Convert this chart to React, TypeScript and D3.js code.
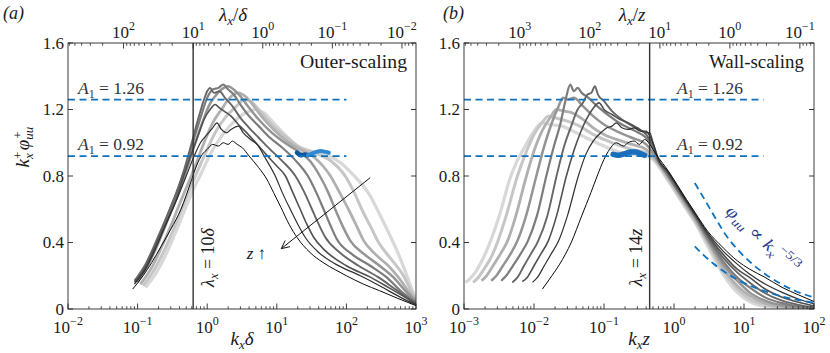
import React from "react";
import * as d3 from "d3";

const FONT = '"Liberation Serif", "DejaVu Serif", "Times New Roman", serif';
const AXIS = "#262626";
const BLUE = "#0f72bf";

const yTicks = [0, 0.4, 0.8, 1.2, 1.6];
const yTickLabels = ["0", "0.4", "0.8", "1.2", "1.6"];
const outerBottomExps = [-2, -1, 0, 1, 2, 3];
const outerTopExps = [2, 1, 0, -1, -2];
const wallBottomExps = [-3, -2, -1, 0, 1, 2];
const wallTopExps = [3, 2, 1, 0, -1];
const a1Levels = [1.26, 0.92];
const a1Labels = ["1.26", "0.92"];

// light (small z) -> black (large z)
const grays = ["#d8d8d8", "#c6c6c6", "#b0b0b0", "#949494", "#7c7c7c", "#666666", "#505050", "#303030", "#0a0a0a"];
const widths = [3.2, 3.0, 2.8, 2.5, 2.2, 1.9, 1.6, 1.2, 1.0];

// outer scaling: [k_x delta, k_x phi_uu]
const outer0 = [[0.13,0.13],[0.18,0.21],[0.25,0.32],[0.35,0.46],[0.48,0.6],[0.65,0.73],[0.85,0.83],[1.1,0.93],[1.5,1.02],[2,1.09],[3,1.16],[4,1.19],[5,1.2],[6.5,1.18],[9,1.12],[13,1.05],[20,0.98],[30,0.95],[50,0.93],[82,0.88],[130,0.8],[220,0.68],[300,0.57],[425,0.44],[560,0.33],[740,0.2],[870,0.12],[1000,0.06]];
const outer1 = [[0.12,0.14],[0.17,0.23],[0.24,0.35],[0.33,0.48],[0.45,0.62],[0.6,0.75],[0.8,0.87],[1.0,0.96],[1.3,1.06],[1.8,1.15],[2.5,1.21],[3.5,1.26],[4.5,1.24],[6,1.18],[9,1.1],[14,1.03],[22,0.97],[35,0.94],[60,0.89],[96,0.8],[130,0.7],[166,0.6],[220,0.5],[290,0.4],[420,0.31],[660,0.2],[850,0.11],[1000,0.055]];
const outer2 = [[0.11,0.15],[0.16,0.25],[0.22,0.37],[0.3,0.5],[0.4,0.63],[0.55,0.77],[0.7,0.88],[0.9,1.0],[1.2,1.12],[1.6,1.2],[2.1,1.27],[2.8,1.3],[3.5,1.28],[4.5,1.23],[6,1.16],[9,1.08],[14,1.01],[22,0.96],[35,0.91],[59,0.8],[80,0.7],[107,0.6],[140,0.5],[178,0.41],[260,0.33],[400,0.26],[560,0.19],[800,0.1],[1000,0.05]];
const outer3 = [[0.1,0.16],[0.14,0.26],[0.2,0.4],[0.28,0.55],[0.38,0.69],[0.5,0.83],[0.65,0.98],[0.85,1.12],[1.05,1.22],[1.3,1.28],[1.6,1.32],[2.0,1.34],[2.4,1.32],[3,1.28],[4,1.21],[5.5,1.14],[8,1.07],[12,1.01],[20,0.95],[30,0.89],[41.5,0.8],[55,0.7],[69,0.6],[88,0.5],[114,0.41],[180,0.33],[300,0.26],[475,0.19],[700,0.11],[1000,0.045]];
const outer4 = [[0.095,0.17],[0.14,0.28],[0.2,0.43],[0.28,0.58],[0.38,0.72],[0.48,0.84],[0.62,1.0],[0.8,1.15],[1.0,1.27],[1.2,1.32],[1.45,1.33],[1.7,1.35],[2.0,1.32],[2.4,1.29],[3,1.23],[4,1.16],[5.5,1.1],[8,1.03],[12,0.97],[18,0.9],[28,0.8],[37,0.7],[47,0.6],[58,0.51],[73,0.42],[120,0.33],[220,0.26],[380,0.19],[600,0.11],[1000,0.04]];
const outer5 = [[0.09,0.17],[0.13,0.27],[0.19,0.42],[0.27,0.57],[0.36,0.7],[0.46,0.83],[0.6,1.0],[0.75,1.15],[0.9,1.26],[1.0,1.31],[1.1,1.33],[1.25,1.3],[1.5,1.31],[1.8,1.27],[2.3,1.22],[3,1.15],[4,1.09],[5.5,1.03],[8,0.96],[12,0.89],[18.5,0.8],[25,0.7],[32,0.6],[40,0.51],[50,0.43],[80,0.34],[150,0.26],[290,0.19],[500,0.12],[800,0.06],[1000,0.035]];
const outer6 = [[0.09,0.16],[0.13,0.25],[0.19,0.4],[0.27,0.54],[0.36,0.66],[0.46,0.8],[0.6,0.94],[0.75,1.05],[0.9,1.14],[1.1,1.2],[1.3,1.23],[1.5,1.21],[1.75,1.19],[2.2,1.16],[2.8,1.11],[3.5,1.07],[5,1.0],[7,0.93],[10,0.86],[13.3,0.8],[17,0.7],[21.7,0.6],[27,0.51],[34,0.43],[50,0.35],[100,0.26],[224,0.19],[400,0.13],[700,0.07],[1000,0.03]];
const outer7 = [[0.09,0.15],[0.13,0.24],[0.18,0.36],[0.25,0.5],[0.35,0.64],[0.5,0.8],[0.65,0.92],[0.8,1.0],[1.0,1.05],[1.2,1.09],[1.38,1.12],[1.6,1.08],[1.9,1.06],[2.2,1.08],[2.8,1.1],[3.3,1.06],[4.2,1.02],[5.2,0.99],[7,0.9],[9.5,0.8],[12,0.7],[15.6,0.6],[20,0.51],[25.7,0.43],[40,0.34],[70,0.27],[159,0.2],[300,0.14],[600,0.07],[1000,0.025]];
const outer8 = [[0.085,0.12],[0.12,0.2],[0.16,0.28],[0.22,0.38],[0.3,0.48],[0.42,0.6],[0.6,0.78],[0.7,0.86],[0.85,0.93],[1.0,0.96],[1.2,0.99],[1.45,0.98],[1.7,1.0],[2.0,0.99],[2.3,1.01],[2.7,0.99],[3.2,0.97],[4.0,0.92],[5.5,0.85],[7.2,0.78],[9,0.7],[11.5,0.61],[15,0.51],[19.6,0.43],[30,0.34],[46,0.28],[70,0.235],[100,0.2],[175,0.15],[300,0.11],[540,0.065],[1000,0.02]];

// wall scaling: [k_x z, k_x phi_uu]
const wall0 = [[0.00105,0.16],[0.0012,0.18],[0.0015,0.23],[0.0019,0.31],[0.0024,0.41],[0.0033,0.58],[0.0045,0.78],[0.0056,0.88],[0.0075,0.98],[0.01,1.07],[0.013,1.12],[0.017,1.11],[0.025,1.1],[0.04,1.06],[0.07,1.01],[0.1,0.98],[0.15,0.95],[0.25,0.93],[0.4,0.92],[0.5,0.9],[0.6,0.86],[0.8,0.78],[1.1,0.69],[1.5,0.6],[2,0.52],[3,0.38],[5,0.21],[8,0.1],[12,0.045],[20,0.015],[35,0.006],[60,0.003],[100,0.001]];
const wall1 = [[0.00135,0.16],[0.0016,0.19],[0.002,0.25],[0.0025,0.32],[0.003,0.4],[0.004,0.56],[0.0058,0.8],[0.0075,0.93],[0.01,1.05],[0.013,1.12],[0.016,1.16],[0.02,1.15],[0.03,1.13],[0.045,1.1],[0.07,1.05],[0.1,1.02],[0.15,0.99],[0.25,0.96],[0.4,0.94],[0.5,0.91],[0.6,0.87],[0.8,0.79],[1.1,0.7],[1.5,0.61],[2,0.53],[3,0.4],[5,0.23],[8,0.12],[12,0.06],[20,0.025],[35,0.01],[60,0.005],[100,0.002]];
const wall2 = [[0.00178,0.17],[0.0021,0.2],[0.0026,0.26],[0.0033,0.33],[0.0042,0.41],[0.0055,0.56],[0.0078,0.8],[0.01,0.95],[0.013,1.07],[0.017,1.15],[0.021,1.2],[0.027,1.19],[0.035,1.18],[0.05,1.14],[0.07,1.09],[0.1,1.05],[0.15,1.02],[0.25,0.99],[0.4,0.96],[0.5,0.92],[0.6,0.88],[0.8,0.8],[1.1,0.71],[1.5,0.62],[2,0.54],[3,0.41],[5,0.25],[8,0.14],[12,0.08],[20,0.035],[35,0.015],[60,0.007],[100,0.003]];
const wall3 = [[0.00245,0.17],[0.0029,0.2],[0.0036,0.26],[0.0046,0.33],[0.0058,0.41],[0.0077,0.56],[0.0108,0.8],[0.014,0.98],[0.018,1.12],[0.022,1.21],[0.026,1.27],[0.03,1.26],[0.037,1.27],[0.05,1.22],[0.07,1.16],[0.1,1.11],[0.15,1.07],[0.25,1.03],[0.4,0.99],[0.5,0.94],[0.6,0.88],[0.8,0.81],[1.1,0.72],[1.5,0.63],[2,0.55],[3,0.42],[5,0.27],[8,0.17],[12,0.1],[20,0.05],[35,0.022],[60,0.01],[100,0.004]];
const wall4 = [[0.0034,0.17],[0.004,0.2],[0.005,0.26],[0.0064,0.33],[0.0082,0.41],[0.011,0.56],[0.015,0.8],[0.019,0.97],[0.024,1.12],[0.028,1.25],[0.033,1.35],[0.037,1.31],[0.042,1.33],[0.048,1.3],[0.06,1.27],[0.08,1.22],[0.12,1.16],[0.18,1.11],[0.28,1.07],[0.4,1.03],[0.5,0.97],[0.6,0.89],[0.8,0.81],[1.1,0.72],[1.5,0.64],[2,0.56],[3,0.43],[5,0.29],[8,0.19],[12,0.13],[20,0.07],[35,0.035],[60,0.016],[100,0.007]];
const wall5 = [[0.0049,0.16],[0.0058,0.19],[0.0072,0.26],[0.009,0.33],[0.0115,0.41],[0.0155,0.56],[0.021,0.8],[0.027,0.98],[0.034,1.1],[0.042,1.2],[0.05,1.24],[0.058,1.29],[0.066,1.3],[0.074,1.34],[0.082,1.29],[0.1,1.25],[0.13,1.19],[0.18,1.14],[0.28,1.09],[0.4,1.05],[0.5,0.98],[0.6,0.89],[0.8,0.82],[1.1,0.73],[1.5,0.64],[2,0.56],[3,0.44],[5,0.31],[8,0.22],[12,0.16],[20,0.095],[35,0.05],[60,0.025],[100,0.01]];
const wall6 = [[0.0068,0.165],[0.008,0.19],[0.01,0.26],[0.0125,0.33],[0.016,0.41],[0.021,0.56],[0.029,0.8],[0.037,0.95],[0.046,1.06],[0.056,1.14],[0.068,1.2],[0.085,1.24],[0.1,1.2],[0.13,1.17],[0.17,1.14],[0.22,1.12],[0.3,1.09],[0.4,1.06],[0.45,1.06],[0.5,1.0],[0.6,0.9],[0.8,0.83],[1.1,0.74],[1.5,0.65],[2,0.57],[3,0.45],[5,0.33],[8,0.24],[12,0.19],[20,0.12],[35,0.07],[60,0.04],[100,0.018]];
const wall7 = [[0.0095,0.16],[0.0112,0.19],[0.014,0.26],[0.0175,0.33],[0.0225,0.41],[0.03,0.56],[0.043,0.8],[0.055,0.93],[0.07,1.01],[0.09,1.06],[0.11,1.09],[0.13,1.1],[0.15,1.12],[0.18,1.09],[0.22,1.08],[0.27,1.09],[0.33,1.07],[0.4,1.07],[0.45,1.04],[0.5,1.0],[0.6,0.9],[0.8,0.83],[1.1,0.74],[1.5,0.65],[2,0.57],[3,0.46],[5,0.35],[8,0.27],[12,0.21],[20,0.15],[35,0.1],[60,0.06],[100,0.03]];
const wall8 = [[0.0132,0.12],[0.018,0.2],[0.0233,0.27],[0.034,0.4],[0.048,0.56],[0.065,0.7],[0.08,0.8],[0.1,0.9],[0.12,0.96],[0.15,1.0],[0.19,0.98],[0.22,1.0],[0.27,1.01],[0.32,0.99],[0.38,1.02],[0.45,0.99],[0.5,0.96],[0.6,0.91],[0.8,0.84],[1.1,0.75],[1.5,0.66],[2,0.58],[3,0.47],[5,0.37],[8,0.29],[12,0.24],[20,0.19],[35,0.13],[60,0.085],[100,0.045]];

const outerCurves = [outer0, outer1, outer2, outer3, outer4, outer5, outer6, outer7, outer8];
const wallCurves = [wall0, wall1, wall2, wall3, wall4, wall5, wall6, wall7, wall8];

// blue highlighted bits
const outerBlueDark = [[19.5,0.94],[22,0.925],[25,0.93],[28,0.925]];
const outerBlueLight = [[28,0.925],[32,0.935],[37,0.945],[43,0.95],[50,0.945],[56,0.94]];
const wallBlue = [[0.135,0.93],[0.16,0.925],[0.2,0.935],[0.24,0.945],[0.28,0.945],[0.33,0.935],[0.38,0.925]];

// dashed reference lines in the wall-scaled panel
const slopeUpper = [[1.98,0.758],[2.75,0.657],[4.03,0.537],[5.6,0.44],[8.2,0.355],[12.8,0.275],[20.9,0.205],[32.4,0.155],[53,0.11],[100,0.07]];
const slopeLower = [[1.98,0.377],[2.6,0.327],[3.6,0.275],[5,0.23],[7.4,0.185],[10.8,0.15],[18.7,0.11],[32,0.08],[56,0.056],[100,0.038]];

const y = d3.scaleLinear().domain([0, 1.6]).range([309, 43]);
const xOuter = d3.scaleLog().domain([1e-2, 1e3]).range([68, 416]);
const xWall = d3.scaleLog().domain([1e-3, 1e2]).range([464, 814]);

const exp = (e: number) => (e < 0 ? "\u2212" + Math.abs(e) : String(e));

function Panel({ x, curves, id, topExps, bottomExps, vK, dashK, blue }: any) {
  const [x0, x1] = x.range();
  const [d0, d1] = x.domain();
  const y0 = y(0);
  const y1 = y(1.6);
  const line = d3
    .line<number[]>()
    .x((d) => x(d[0]))
    .y((d) => y(d[1]))
    .curve(d3.curveMonotoneX);

  const bottomMinor: number[] = [];
  for (let e = Math.round(Math.log10(d0)); e < Math.log10(d1); e++) {
    for (let m = 2; m <= 9; m++) bottomMinor.push(m * Math.pow(10, e));
  }
  const topMinor: number[] = [];
  const topMajor: number[] = [];
  for (let e = -4; e <= 4; e++) {
    for (let m = 1; m <= 9; m++) {
      const k = (2 * Math.PI) / (m * Math.pow(10, e));
      if (k > d0 && k < d1) (m === 1 ? topMajor : topMinor).push(k);
    }
  }

  return (
    <g>
      <defs>
        <clipPath id={id}>
          <rect x={x0} y={y1} width={x1 - x0} height={y0 - y1} />
        </clipPath>
      </defs>
      <g clipPath={`url(#${id})`}>
        {curves.map((c: number[][], i: number) => (
          <path key={i} d={line(c) || ""} fill="none" stroke={grays[i]} strokeWidth={widths[i]} strokeLinejoin="round" />
        ))}
        {blue.map((b: any, i: number) => (
          <path key={"b" + i} d={line(b.pts) || ""} fill="none" stroke={b.color} strokeWidth={b.w} strokeLinecap="round" />
        ))}
        {a1Levels.map((a, i) => (
          <line key={"a" + i} x1={x0} x2={x(dashK)} y1={y(a)} y2={y(a)} stroke={BLUE} strokeWidth={1.8} strokeDasharray="7,4.5" />
        ))}
        <line x1={x(vK)} x2={x(vK)} y1={y0} y2={y1} stroke="#333" strokeWidth={1.4} />
      </g>
      <rect x={x0} y={y1} width={x1 - x0} height={y0 - y1} fill="none" stroke={AXIS} strokeWidth={0.9} />
      {yTicks.map((t, i) => (
        <g key={"y" + i}>
          <line x1={x0} x2={x0 + 5} y1={y(t)} y2={y(t)} stroke={AXIS} strokeWidth={0.9} />
          <line x1={x1 - 5} x2={x1} y1={y(t)} y2={y(t)} stroke={AXIS} strokeWidth={0.9} />
          <text x={x0 - 4} y={y(t)} textAnchor="end" dominantBaseline="central" fontSize={17} fill="#1a1a1a">
            {yTickLabels[i]}
          </text>
        </g>
      ))}
      {bottomMinor.map((v, i) => (
        <line key={"bm" + i} x1={x(v)} x2={x(v)} y1={y0} y2={y0 - 2.8} stroke={AXIS} strokeWidth={0.8} />
      ))}
      {bottomExps.map((e: number) => (
        <g key={"bx" + e}>
          <line x1={x(Math.pow(10, e))} x2={x(Math.pow(10, e))} y1={y0} y2={y0 - 5.5} stroke={AXIS} strokeWidth={0.9} />
          <text x={x(Math.pow(10, e))} y={333} textAnchor="middle" fontSize={17} fill="#1a1a1a">
            10<tspan dy={-8} fontSize={12}>{exp(e)}</tspan>
          </text>
        </g>
      ))}
      {topMinor.map((v, i) => (
        <line key={"tm" + i} x1={x(v)} x2={x(v)} y1={y1} y2={y1 + 2.8} stroke={AXIS} strokeWidth={0.8} />
      ))}
      {topMajor.map((v, i) => (
        <line key={"tM" + i} x1={x(v)} x2={x(v)} y1={y1} y2={y1 + 5.5} stroke={AXIS} strokeWidth={0.9} />
      ))}
      {topExps.map((e: number) => (
        <text key={"tx" + e} x={x((2 * Math.PI) / Math.pow(10, e))} y={37.5} textAnchor="middle" fontSize={17} fill="#1a1a1a">
          10<tspan dy={-8} fontSize={12}>{exp(e)}</tspan>
        </text>
      ))}
    </g>
  );
}

export default function App() {
  const arrowFrom = [xOuter(220), y(0.79)];
  const arrowTo = [xOuter(11.6), y(0.363)];
  const ang = Math.atan2(arrowTo[1] - arrowFrom[1], arrowTo[0] - arrowFrom[0]);
  const head = (da: number) => [arrowTo[0] - 9 * Math.cos(ang + da), arrowTo[1] - 9 * Math.sin(ang + da)];
  const h1 = head(0.45);
  const h2 = head(-0.45);
  const slopeLine = d3
    .line<number[]>()
    .x((d) => xWall(d[0]))
    .y((d) => y(d[1]))
    .curve(d3.curveMonotoneX);

  return (
    <svg width={830} height={353} style={{ position: "absolute", left: 0, top: 0, background: "#fff", fontFamily: FONT }}>
      <rect width={830} height={353} fill="#fff" />
      <Panel
        x={xOuter}
        curves={outerCurves}
        id="clipOuter"
        topExps={outerTopExps}
        bottomExps={outerBottomExps}
        vK={(2 * Math.PI) / 10}
        dashK={100}
        blue={[
          { pts: outerBlueDark, color: "#0b559f", w: 4.5 },
          { pts: outerBlueLight, color: "#2f8ad3", w: 4 },
        ]}
      />
      <Panel
        x={xWall}
        curves={wallCurves}
        id="clipWall"
        topExps={wallTopExps}
        bottomExps={wallBottomExps}
        vK={(2 * Math.PI) / 14}
        dashK={19}
        blue={[{ pts: wallBlue, color: "#1b6fba", w: 5.5 }]}
      />

      {/* power-law reference lines */}
      <g clipPath="url(#clipWall)">
        <path d={slopeLine(slopeUpper) || ""} fill="none" stroke={BLUE} strokeWidth={1.8} strokeDasharray="7,4.5" />
        <path d={slopeLine(slopeLower) || ""} fill="none" stroke={BLUE} strokeWidth={1.8} strokeDasharray="7,4.5" />
      </g>

      {/* panel tags */}
      <text x={3} y={19} fontSize={18} fontStyle="italic" fill="#1a1a1a">(a)</text>
      <text x={443} y={19} fontSize={18} fontStyle="italic" fill="#1a1a1a">(b)</text>

      {/* axis titles */}
      <text x={233} y={21} textAnchor="middle" fontSize={19} fill="#1a1a1a">
        <tspan fontStyle="italic">λ</tspan>
        <tspan dy={4} fontSize={13} fontStyle="italic">x</tspan>
        <tspan dy={-4}>/</tspan>
        <tspan fontStyle="italic">δ</tspan>
      </text>
      <text x={632} y={21} textAnchor="middle" fontSize={19} fill="#1a1a1a">
        <tspan fontStyle="italic">λ</tspan>
        <tspan dy={4} fontSize={13} fontStyle="italic">x</tspan>
        <tspan dy={-4}>/</tspan>
        <tspan fontStyle="italic">z</tspan>
      </text>
      <text x={242} y={345} textAnchor="middle" fontSize={19} fill="#1a1a1a">
        <tspan fontStyle="italic">k</tspan>
        <tspan dy={4} fontSize={13} fontStyle="italic">x</tspan>
        <tspan dy={-4} fontStyle="italic">δ</tspan>
      </text>
      <text x={639} y={345} textAnchor="middle" fontSize={19} fill="#1a1a1a">
        <tspan fontStyle="italic">k</tspan>
        <tspan dy={4} fontSize={13} fontStyle="italic">x</tspan>
        <tspan dy={-4} fontStyle="italic">z</tspan>
      </text>
      <g transform="translate(29,147) rotate(-90)">
        <text x={0} y={0} textAnchor="middle" fontSize={19} fill="#1a1a1a">
          <tspan fontStyle="italic">k</tspan>
          <tspan dy={-7} fontSize={13}>+</tspan>
          <tspan dx={-7.3} dy={11} fontSize={13} fontStyle="italic">x</tspan>
          <tspan dx={3} dy={-4} fontStyle="italic">φ</tspan>
          <tspan dy={4} fontSize={13} fontStyle="italic">uu</tspan>
          <tspan dx={-12} dy={-11} fontSize={13}>+</tspan>
        </text>
      </g>

      {/* scaling labels */}
      <text x={407} y={68} textAnchor="end" fontSize={18} fill="#1a1a1a" textLength={107} lengthAdjust="spacingAndGlyphs">Outer-scaling</text>
      <text x={804} y={68} textAnchor="end" fontSize={18} fill="#1a1a1a" textLength={95} lengthAdjust="spacingAndGlyphs">Wall-scaling</text>

      {/* A1 labels */}
      {a1Levels.map((a, i) => (
        <g key={"al" + i}>
          <text x={78} y={y(a) - 6} fontSize={17.5} fill="#333">
            <tspan fontStyle="italic">A</tspan>
            <tspan dy={4} fontSize={12}>1</tspan>
            <tspan dy={-4}> = {a1Labels[i]}</tspan>
          </text>
          <text x={677} y={y(a) - 6} fontSize={17.5} fill="#333">
            <tspan fontStyle="italic">A</tspan>
            <tspan dy={4} fontSize={12}>1</tspan>
            <tspan dy={-4}> = {a1Labels[i]}</tspan>
          </text>
        </g>
      ))}

      {/* vertical line labels */}
      <g transform={`translate(${xOuter((2 * Math.PI) / 10) + 21},${y(0.31)}) rotate(-90)`}>
        <text textAnchor="middle" fontSize={18} fill="#1a1a1a">
          <tspan fontStyle="italic">λ</tspan>
          <tspan dy={4} fontSize={12.5} fontStyle="italic">x</tspan>
          <tspan dy={-4}> = 10</tspan>
          <tspan fontStyle="italic">δ</tspan>
        </text>
      </g>
      <g transform={`translate(${xWall((2 * Math.PI) / 14) - 8},${y(0.31)}) rotate(-90)`}>
        <text textAnchor="middle" fontSize={18} fill="#1a1a1a">
          <tspan fontStyle="italic">λ</tspan>
          <tspan dy={4} fontSize={12.5} fontStyle="italic">x</tspan>
          <tspan dy={-4}> = 14</tspan>
          <tspan fontStyle="italic">z</tspan>
        </text>
      </g>

      {/* z arrow */}
      <line x1={arrowFrom[0]} y1={arrowFrom[1]} x2={arrowTo[0]} y2={arrowTo[1]} stroke="#111" strokeWidth={1} />
      <polyline points={`${h1[0]},${h1[1]} ${arrowTo[0]},${arrowTo[1]} ${h2[0]},${h2[1]}`} fill="none" stroke="#111" strokeWidth={1} />
      <text x={xOuter(3.7)} y={y(0.3)} fontSize={17} fill="#1a1a1a">
        <tspan fontStyle="italic">z</tspan> ↑
      </text>

      {/* power-law label */}
      <g transform={`translate(${xWall(5.3)},${y(0.58)}) rotate(42)`}>
        <text fontSize={17} fill="#2b3a8c" textLength={92} lengthAdjust="spacingAndGlyphs">
          <tspan fontStyle="italic">φ</tspan>
          <tspan dy={4} fontSize={12} fontStyle="italic">uu</tspan>
          <tspan dy={-4}> ∝ </tspan>
          <tspan fontStyle="italic">k</tspan>
          <tspan dy={4} fontSize={12} fontStyle="italic">x</tspan>
          <tspan dy={-12} fontSize={12}>−5/3</tspan>
        </text>
      </g>
    </svg>
  );
}
